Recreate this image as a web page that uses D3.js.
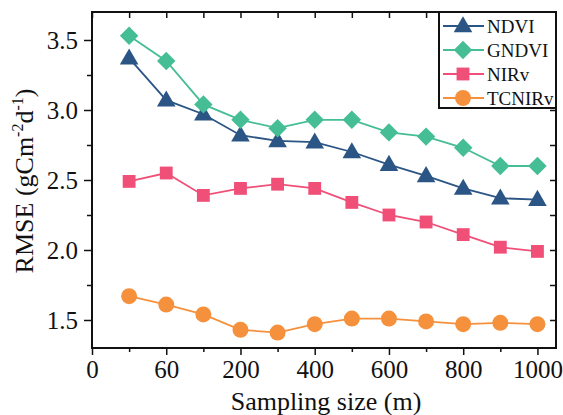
<!DOCTYPE html>
<html>
<head>
<meta charset="utf-8">
<script src="https://cdn.jsdelivr.net/npm/d3@7"></script>
<style>
  body { margin: 0; background: #fff; }
  svg text { font-family: "Liberation Serif", "Times New Roman", serif; fill: #111; }
</style>
</head>
<body>
<div id="chart"></div>
<script>
// sampling sizes (m) of the 12 points, sit at positions 1..12 of the axis
const samplingSizes = [30, 60, 100, 200, 300, 400, 500, 600, 700, 800, 900, 1000];
const xTickLabels = ['0', '60', '200', '400', '600', '800', '1000'];
const yTickValues = [1.5, 2.0, 2.5, 3.0, 3.5];

const ndvi   = [3.37, 3.07, 2.97, 2.82, 2.78, 2.77, 2.70, 2.61, 2.53, 2.44, 2.37, 2.36];
const gndvi  = [3.53, 3.35, 3.04, 2.93, 2.87, 2.93, 2.93, 2.84, 2.81, 2.73, 2.60, 2.60];
const nirv   = [2.49, 2.55, 2.39, 2.44, 2.47, 2.44, 2.34, 2.25, 2.20, 2.11, 2.02, 1.99];
const tcnirv = [1.67, 1.61, 1.54, 1.43, 1.41, 1.47, 1.51, 1.51, 1.49, 1.47, 1.48, 1.47];

const series = [
  { name: 'NDVI', values: ndvi, color: '#2B5585', symbol: d3.symbolTriangle, size: 150, rot: 0, dy: 1 },
  { name: 'GNDVI', values: gndvi, color: '#45BE95', symbol: d3.symbolSquare, size: 170, rot: 45, dy: 0 },
  { name: 'NIRv', values: nirv, color: '#F05078', symbol: d3.symbolSquare, size: 165, rot: 0, dy: 0 },
  { name: 'TCNIRv', values: tcnirv, color: '#F5913D', symbol: d3.symbolCircle, size: 200, rot: 0, dy: 0 }
];

const width = 563, height = 415;
const plotLeft = 92, plotRight = 556, plotTop = 12, plotBottom = 348;

const svg = d3.select('#chart')
  .append('svg')
  .attr('width', width)
  .attr('height', height);

// Scales
const x = d3.scaleLinear()
  .domain([0, 12.5])
  .range([plotLeft, plotRight]);

const y = d3.scaleLinear()
  .domain([1.3, 3.7])
  .range([plotBottom, plotTop]);

const majorX = d3.range(0, 13, 2);
const minorX = d3.range(1, 13, 2);
const minorY = [1.75, 2.25, 2.75, 3.25];

// axes
const xAxis = d3.axisBottom(x)
  .tickValues(majorX)
  .tickSize(7)
  .tickPadding(5)
  .tickFormat((d, i) => xTickLabels[i]);

const yAxis = d3.axisLeft(y)
  .tickValues(yTickValues)
  .tickSize(8)
  .tickPadding(6)
  .tickFormat(d3.format('.1f'));

const styleAxis = g => {
  g.select('.domain').remove();
  g.selectAll('line').attr('stroke', '#111').attr('stroke-width', 1.5);
  g.selectAll('text').attr('font-size', 25).attr('fill', '#111')
    .style('font-family', '"Liberation Serif", serif');
};

svg.append('g')
  .attr('transform', `translate(0, ${plotBottom})`)
  .call(xAxis)
  .call(styleAxis);

svg.append('g')
  .attr('transform', `translate(0, ${plotBottom})`)
  .call(d3.axisBottom(x).tickValues(minorX).tickSize(4).tickFormat(''))
  .call(styleAxis);

svg.append('g')
  .attr('transform', `translate(${plotLeft}, 0)`)
  .call(yAxis)
  .call(styleAxis);

svg.append('g')
  .attr('transform', `translate(${plotLeft}, 0)`)
  .call(d3.axisLeft(y).tickValues(minorY).tickSize(5).tickFormat(''))
  .call(styleAxis);

// mirrored ticks, pointing inward
svg.append('g')
  .attr('transform', `translate(0, ${plotTop})`)
  .call(d3.axisBottom(x).tickValues(majorX.concat(minorX)).tickSize(6).tickFormat(''))
  .call(styleAxis);

svg.append('g')
  .attr('transform', `translate(${plotRight}, 0)`)
  .call(d3.axisLeft(y).tickValues(yTickValues.concat(minorY)).tickSize(6).tickFormat(''))
  .call(styleAxis);

// frame
svg.append('rect')
  .attr('x', plotLeft)
  .attr('y', plotTop)
  .attr('width', plotRight - plotLeft)
  .attr('height', plotBottom - plotTop)
  .attr('fill', 'none')
  .attr('stroke', '#111')
  .attr('stroke-width', 2);

const line = d3.line()
  .x((d, i) => x(i + 1))
  .y(d => y(d));

series.forEach(s => {
  svg.append('path')
    .datum(s.values)
    .attr('fill', 'none')
    .attr('stroke', s.color)
    .attr('stroke-width', 1.8)
    .attr('d', line);

  svg.append('g')
    .selectAll('path')
    .data(s.values)
    .enter()
    .append('path')
    .attr('d', d3.symbol().type(s.symbol).size(s.size))
    .attr('transform', (d, i) => `translate(${x(i + 1)}, ${y(d) + s.dy}) rotate(${s.rot})`)
    .attr('fill', s.color);
});

// legend
const legend = svg.append('g');
legend.append('rect')
  .attr('x', 439)
  .attr('y', plotTop)
  .attr('width', plotRight - 439)
  .attr('height', 96)
  .attr('fill', '#fff')
  .attr('stroke', '#111')
  .attr('stroke-width', 2);

series.forEach((s, i) => {
  const ly = 26 + i * 24;
  legend.append('line')
    .attr('x1', 443).attr('x2', 484)
    .attr('y1', ly).attr('y2', ly)
    .attr('stroke', s.color)
    .attr('stroke-width', 1.8);
  legend.append('path')
    .attr('d', d3.symbol().type(s.symbol).size(s.size))
    .attr('transform', `translate(463, ${ly + s.dy}) rotate(${s.rot})`)
    .attr('fill', s.color);
  legend.append('text')
    .attr('x', 487)
    .attr('y', ly)
    .attr('dy', '0.35em')
    .attr('font-size', 19)
    .text(s.name);
});

// axis titles
svg.append('text')
  .attr('x', (plotLeft + plotRight) / 2 + 2)
  .attr('y', 410)
  .attr('text-anchor', 'middle')
  .attr('font-size', 26)
  .text('Sampling size (m)');

const yTitle = svg.append('text')
  .attr('transform', 'translate(33, 181) rotate(-90)')
  .attr('text-anchor', 'middle')
  .attr('font-size', 26);
yTitle.append('tspan').text('RMSE (gCm');
yTitle.append('tspan').attr('font-size', 16).attr('dy', -10).text('-2');
yTitle.append('tspan').attr('dy', 10).text('d');
yTitle.append('tspan').attr('font-size', 16).attr('dy', -10).text('-1');
yTitle.append('tspan').attr('dy', 10).text(')');
</script>
</body>
</html>
